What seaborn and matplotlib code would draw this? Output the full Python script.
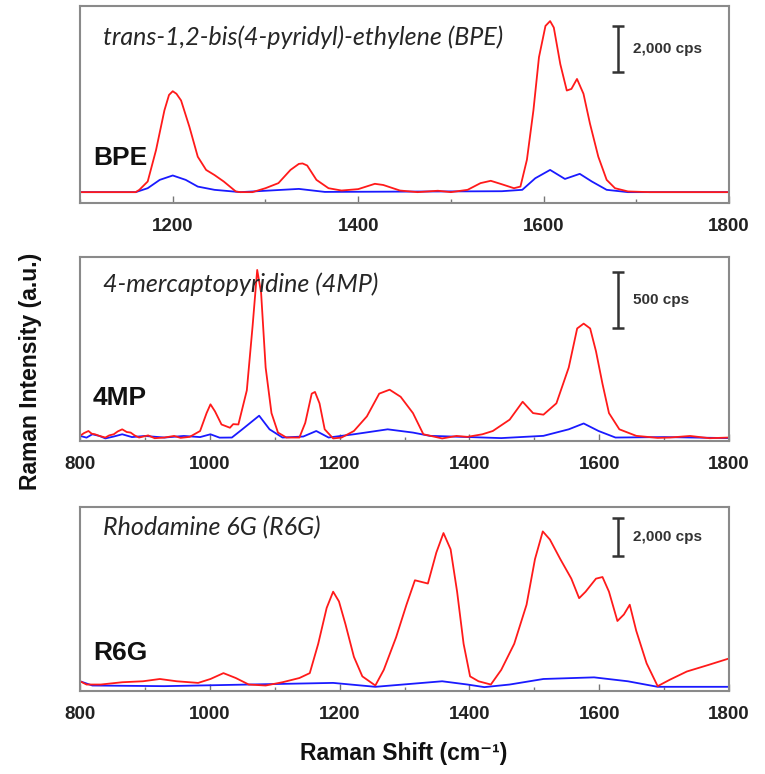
import numpy as np
import seaborn as sns
import matplotlib.pyplot as plt
from matplotlib.ticker import MultipleLocator

# --- BPE (cps above baseline) ---
bpe_red_x = [1100, 1160, 1164, 1173, 1182, 1191, 1196, 1200, 1204, 1209, 1218, 1227, 1236, 1245, 1255,
             1268, 1273, 1286, 1300, 1314, 1327, 1336, 1340, 1345, 1355, 1368, 1382, 1400, 1418, 1427,
             1445, 1464, 1486, 1500, 1518, 1532, 1543, 1555, 1568, 1575, 1582, 1589, 1595, 1602, 1607,
             1611, 1618, 1625, 1630, 1636, 1643, 1650, 1659, 1668, 1677, 1691, 1714, 1800]
bpe_red_y = [0, 0, 100, 460, 1820, 3530, 4200, 4360, 4250, 3960, 2820, 1530, 960, 740, 460,
             30, 0, 0, 170, 390, 960, 1220, 1240, 1150, 530, 170, 70, 130, 360, 310,
             70, 0, 60, 0, 100, 390, 490, 340, 170, 240, 1400, 3530, 5830, 7180, 7390,
             7110, 5530, 4390, 4460, 4890, 4250, 2960, 1530, 530, 170, 30, 0, 0]
bpe_blue_x = [1100, 1160, 1173, 1186, 1200, 1214, 1227, 1245, 1273, 1336, 1364, 1555, 1577, 1591,
              1607, 1623, 1639, 1652, 1668, 1691, 1800]
bpe_blue_y = [0, 0, 170, 530, 720, 530, 240, 100, 0, 140, 10, 40, 100, 600,
              960, 570, 790, 460, 100, 0, 0]

# --- 4MP ---
mp_red_x = [800, 806, 813, 818, 823, 830, 839, 845, 852, 858, 865, 872, 878, 884, 891, 905, 915, 930,
            945, 955, 969, 985, 995, 1001, 1008, 1018, 1031, 1036, 1044, 1057, 1066, 1073, 1079, 1086,
            1095, 1105, 1118, 1138, 1147, 1157, 1162, 1169, 1177, 1190, 1203, 1222, 1242, 1261, 1277,
            1294, 1313, 1329, 1358, 1380, 1397, 1420, 1436, 1462, 1482, 1498, 1514, 1534, 1553, 1566,
            1576, 1586, 1595, 1605, 1615, 1631, 1657, 1690, 1709, 1740, 1770, 1800]
mp_red_y = [6, 30, 49, 25, 20, 5, -9, 10, 20, 45, 64, 40, 35, 10, -9, 10, -15, -9,
            5, -12, -3, 49, 208, 286, 223, 107, 78, 110, 107, 410, 988, 1480, 1277, 613,
            208, 35, -9, -9, 121, 381, 396, 295, 64, -17, -9, 49, 179, 381, 416,
            353, 208, 20, -17, 5, -3, 20, 49, 150, 309, 208, 194, 295, 613, 960,
            1003, 960, 757, 468, 208, 64, 6, -12, -9, 5, -15, -9]
mp_blue_x = [800, 810, 819, 830, 839, 852, 865, 880, 900, 930, 960, 985, 1001, 1015, 1034, 1050, 1076,
             1092, 1112, 1144, 1164, 1183, 1222, 1274, 1313, 1339, 1400, 1449, 1514, 1553, 1576, 1599,
             1625, 1700, 1800]
mp_blue_y = [6, -10, 20, 5, -17, 0, 20, -5, 5, -9, 5, -5, 20, -10, -9, 64, 185,
             64, -9, 0, 49, -9, 20, 64, 35, 6, -5, -14, 6, 64, 116, 49,
             -9, -5, -14]

# --- R6G ---
r6g_red_x = [800, 810, 832, 865, 897, 923, 949, 982, 1001, 1021, 1040, 1060, 1086, 1112, 1138, 1154,
             1167, 1180, 1190, 1199, 1209, 1222, 1235, 1255, 1268, 1287, 1303, 1316, 1336, 1349,
             1360, 1371, 1381, 1391, 1401, 1414, 1433, 1449, 1469, 1488, 1501, 1513, 1524, 1540,
             1557, 1569, 1579, 1595, 1605, 1615, 1628, 1638, 1647, 1657, 1673, 1690, 1709, 1735,
             1768, 1800]
r6g_red_y = [261, 87, 87, 209, 261, 383, 261, 174, 383, 696, 435, 87, 35, 209, 435, 696,
             2262, 4176, 5046, 4524, 3306, 1566, 522, 35, 870, 2610, 4350, 5655, 5481, 7134,
             8178, 7308, 5046, 2262, 522, 261, 87, 870, 2262, 4350, 6786, 8265, 7830, 6786,
             5742, 4698, 5046, 5742, 5829, 5046, 3480, 3828, 4350, 2958, 1218, 0, 348, 783,
             1131, 1479]
r6g_blue_x = [800, 819, 930, 1190, 1255, 1358, 1397, 1423, 1462, 1514, 1592, 1644, 1690, 1800]
r6g_blue_y = [261, 35, 0, 174, -35, 261, 87, -52, 87, 383, 470, 261, -35, -35]

titles = ['trans-1,2-bis(4-pyridyl)-ethylene (BPE)', '4-mercaptopyridine (4MP)', 'Rhodamine 6G (R6G)']
tags = ['BPE', '4MP', 'R6G']
scale_labels = ['2,000 cps', '500 cps', '2,000 cps']
scale_len = [2000, 500, 2000]
scale_top = [7180, 1465, 8960]
xlims = [(1100, 1800), (800, 1800), (800, 1800)]
ylims = [(-470, 8040), (-40, 1595), (-260, 9570)]

sns.set_style('white')
plt.rcParams['font.family'] = ['Liberation Sans', 'DejaVu Sans']

fig = plt.figure(figsize=(7.65, 7.74), dpi=100)
boxes = [[0.1046, 0.7377, 0.8484, 0.2545],
         [0.1046, 0.4302, 0.8484, 0.2378],
         [0.1046, 0.1072, 0.8484, 0.2378]]
series = [(bpe_red_x, bpe_red_y, bpe_blue_x, bpe_blue_y),
          (mp_red_x, mp_red_y, mp_blue_x, mp_blue_y),
          (r6g_red_x, r6g_red_y, r6g_blue_x, r6g_blue_y)]
tag_y = [0.228, 0.234, 0.207]
title_y = [0.84, 0.85, 0.89]

for i in range(3):
    ax = fig.add_axes(boxes[i])
    rx, ry, bx, by = series[i]
    sns.lineplot(x=bx, y=by, ax=ax, color='#1a1aff', lw=1.3)
    sns.lineplot(x=rx, y=ry, ax=ax, color='#ff1a1a', lw=1.3)
    ax.set_xlim(*xlims[i])
    ax.set_ylim(*ylims[i])
    ax.set_yticks([])
    ax.xaxis.set_major_locator(MultipleLocator(200))
    ax.xaxis.set_minor_locator(MultipleLocator(100))
    ax.tick_params(axis='x', which='both', direction='in', bottom=True, color='#777777')
    ax.tick_params(axis='x', which='major', length=5, width=1, pad=11,
                   labelsize=13.5, labelcolor='#222222')
    ax.tick_params(axis='x', which='minor', length=3, width=1)
    for lab in ax.get_xticklabels():
        lab.set_fontweight('bold')
    for sp in ax.spines.values():
        sp.set_color('#8a8a8a')
        sp.set_linewidth(1.5)

    ax.text(0.035, title_y[i], titles[i], transform=ax.transAxes, fontsize=18,
            fontstyle='italic', family=['Lato', 'DejaVu Sans'], va='center', ha='left')
    ax.text(0.02, tag_y[i], tags[i], transform=ax.transAxes, fontsize=19,
            fontweight='bold', color='#111111', va='center', ha='left')

    x0, x1 = xlims[i]
    bar_x = x0 + (x1 - x0) * 0.829
    ax.errorbar([bar_x], [scale_top[i] - scale_len[i] / 2], yerr=[scale_len[i] / 2],
                color='#333333', lw=1.8, capsize=4, capthick=1.8)
    ax.text(x0 + (x1 - x0) * 0.852, scale_top[i] - scale_len[i] / 2, scale_labels[i],
            fontsize=11, fontweight='bold', color='#333333', va='center', ha='left')
    ax.set_xlabel('')
    ax.set_ylabel('')

fig.text(0.04, 0.52, 'Raman Intensity (a.u.)', rotation=90, fontsize=16.5,
         fontweight='bold', color='#111111', va='center', ha='center')
fig.text(0.528, 0.012, 'Raman Shift (cm\u207b\u00b9)', fontsize=16.5,
         fontweight='bold', color='#111111', va='bottom', ha='center',
         family=['Liberation Sans', 'DejaVu Sans'])

fig.savefig('out.png', dpi=100)
